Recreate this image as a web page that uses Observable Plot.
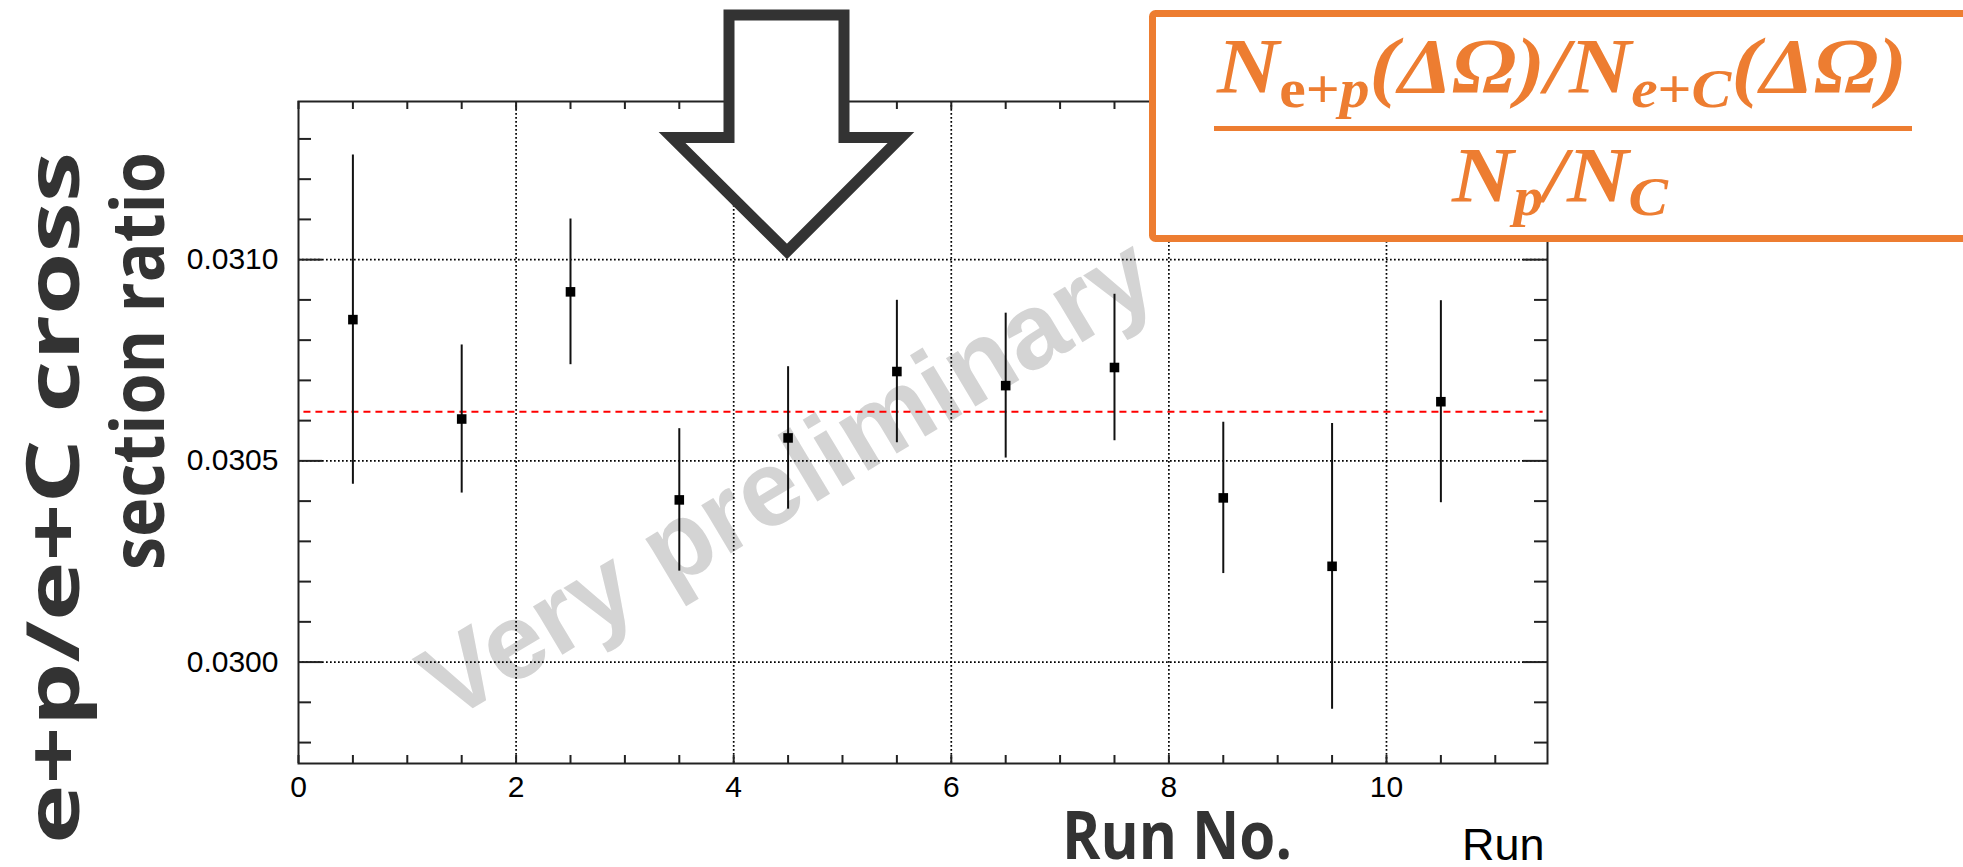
<!DOCTYPE html>
<html><head><meta charset="utf-8">
<script src="https://cdn.jsdelivr.net/npm/d3@7"></script>
<script src="https://cdn.jsdelivr.net/npm/@observablehq/plot@0.6"></script>
<style>
html,body{margin:0;padding:0;background:#fff;}
#wrap{position:relative;width:1963px;height:867px;overflow:hidden;background:#fff;}
#wrap > svg{position:absolute;left:0;top:0;}
</style></head><body><div id="wrap"></div>
<script>
// ---- data ----
const runs      = [0.5, 1.5, 2.5, 3.5, 4.5, 5.5, 6.5, 7.5, 8.5, 9.5, 10.5];
const ratio     = [0.030851, 0.030604, 0.030920, 0.030403, 0.030557, 0.030722, 0.030687, 0.030732, 0.030408, 0.030238, 0.030647];
const ratioErr  = [0.000409, 0.000184, 0.000181, 0.000177, 0.000177, 0.000177, 0.000180, 0.000182, 0.000188, 0.000355, 0.000251];
const fitValue  = [0.030622];
const fitRange  = [0.05, 11.44];
const xDomain   = [0, 11.48];
const yDomain   = [0.029748, 0.031393];
const xMajorTicks = [0, 2, 4, 6, 8, 10];
const xMinorTicks = [0.5, 1, 1.5, 2.5, 3, 3.5, 4.5, 5, 5.5, 6.5, 7, 7.5, 8.5, 9, 9.5, 10.5, 11];
const xGridTicks  = [2, 4, 6, 8, 10];
const yMajorTicks = [0.0300, 0.0305, 0.0310];
const yMinorTicks = [0.0298, 0.0299, 0.0301, 0.0302, 0.0303, 0.0304, 0.0306, 0.0307, 0.0308, 0.0309, 0.0311, 0.0312, 0.0313];
const xAxisTitle  = ["Run"];
const watermark   = [{text: "Very preliminary", x: 4.5, y: 0.030455}];
const yTitleLines = ["e+p/e+C cross", "section ratio"];
const xBigTitle   = "Run No.";

// ---- layout ----
const W = 1963, H = 867, mL = 298, mR = 416, mT = 101, mB = 104;
const FW = W - mL - mR, FH = H - mT - mB;
const data = runs.map((r, i) => ({run: r, v: ratio[i], lo: ratio[i] - ratioErr[i], hi: ratio[i] + ratioErr[i]}));
const tickStyle = {stroke: "#222", strokeWidth: 2};
const gridStyle = {stroke: "#000", strokeOpacity: 1, strokeWidth: 1.7, strokeDasharray: "1.7,2.3"};
const xAll = xMajorTicks.concat(xMinorTicks);

const plot = Plot.plot({
  width: W, height: H, marginLeft: mL, marginRight: mR, marginTop: mT, marginBottom: mB,
  style: {fontFamily: "'Liberation Sans', Arial, Helvetica, sans-serif", background: "transparent", color: "#000"},
  x: {domain: xDomain, label: null},
  y: {domain: yDomain, label: null},
  marks: [
    Plot.text(watermark, {x: "x", y: "y", text: "text", rotate: -31, fontSize: 107, fontWeight: "bold",
      fill: "#d4d4d4", textAnchor: "middle", lineAnchor: "middle"}),
    Plot.gridX(xGridTicks, gridStyle),
    Plot.gridY(yMajorTicks, gridStyle),
    Plot.ruleY(fitValue, {x1: fitRange[0], x2: fitRange[1], stroke: "#ff0000", strokeWidth: 2.2, strokeDasharray: "7,5"}),
    Plot.ruleX(data, {x: "run", y1: "lo", y2: "hi", stroke: "#111", strokeWidth: 2}),
    Plot.dot(data, {x: "run", y: "v", symbol: "square", r: 5.4, fill: "#000", stroke: "none"}),
    // ROOT-style inner ticks
    Plot.tickX(xAll, {x: d => d, insetTop: FH - 8, ...tickStyle}),
    Plot.tickX(xAll, {x: d => d, insetBottom: FH - 8, ...tickStyle}),
    Plot.tickY(yMajorTicks, {y: d => d, insetRight: FW - 24, ...tickStyle}),
    Plot.tickY(yMinorTicks, {y: d => d, insetRight: FW - 13, ...tickStyle}),
    Plot.tickY(yMajorTicks, {y: d => d, insetLeft: FW - 24, ...tickStyle}),
    Plot.tickY(yMinorTicks, {y: d => d, insetLeft: FW - 13, ...tickStyle}),
    Plot.frame({stroke: "#222", strokeWidth: 2}),
    Plot.axisX({ticks: xMajorTicks, tickSize: 0, tickPadding: 12, fontSize: 30, tickFormat: d => String(d), label: null}),
    Plot.axisY({ticks: yMajorTicks, tickSize: 0, tickPadding: 20, fontSize: 30, tickFormat: d3.format(".4f"), label: null}),
    Plot.text(xAxisTitle, {frameAnchor: "bottom-right", text: d => d, dx: -3, dy: 64.7, lineAnchor: "top", textAnchor: "end", fontSize: 45})
  ]
});
const wrap = document.getElementById("wrap");
wrap.appendChild(plot);

// ---- overlay: slide annotations ----
const NS = "http://www.w3.org/2000/svg";
const ov = document.createElementNS(NS, "svg");
ov.setAttribute("width", W); ov.setAttribute("height", H);
ov.innerHTML = `
  <polygon points="729,15 844,15 844,137.5 901,137.5 787,251.5 672,137.5 729,137.5"
    fill="#fff" stroke="#333" stroke-width="11" stroke-linejoin="miter" stroke-miterlimit="6"/>
  <rect x="1152.5" y="13.5" width="900" height="225" rx="3" fill="#fff" stroke="#ED7D31" stroke-width="7"/>
  <g fill="#ED7D31" font-family="'Liberation Serif', 'Times New Roman', serif" font-weight="bold" font-style="italic">
    <text x="1562" y="92" text-anchor="middle" font-size="78" textLength="690" lengthAdjust="spacingAndGlyphs"><tspan>N</tspan><tspan dy="15" font-size="54" font-style="normal">e</tspan><tspan font-size="54" font-style="normal">+</tspan><tspan font-size="54">p</tspan><tspan dy="-15">(ΔΩ)/N</tspan><tspan dy="15" font-size="54">e</tspan><tspan font-size="54" font-style="normal">+</tspan><tspan font-size="54">C</tspan><tspan dy="-15">(ΔΩ)</tspan></text>
    <rect x="1214" y="126" width="698" height="5"/>
    <text x="1560" y="201" text-anchor="middle" font-size="78" textLength="216" lengthAdjust="spacingAndGlyphs"><tspan>N</tspan><tspan dy="14" font-size="54">p</tspan><tspan dy="-14">/N</tspan><tspan dy="14" font-size="54">C</tspan></text>
  </g>
  <g fill="#333" font-family="'Open Sans', 'DejaVu Sans', sans-serif" font-weight="700" font-size="74">
    <text transform="translate(79,152) rotate(-90)" text-anchor="end" textLength="692" lengthAdjust="spacingAndGlyphs">${yTitleLines[0]}</text>
    <text transform="translate(164,152) rotate(-90)" text-anchor="end" textLength="418" lengthAdjust="spacingAndGlyphs">${yTitleLines[1]}</text>
    <text x="1062" y="859" font-size="66" textLength="230" lengthAdjust="spacingAndGlyphs">${xBigTitle}</text>
  </g>`;
wrap.appendChild(ov);
</script></body></html>
